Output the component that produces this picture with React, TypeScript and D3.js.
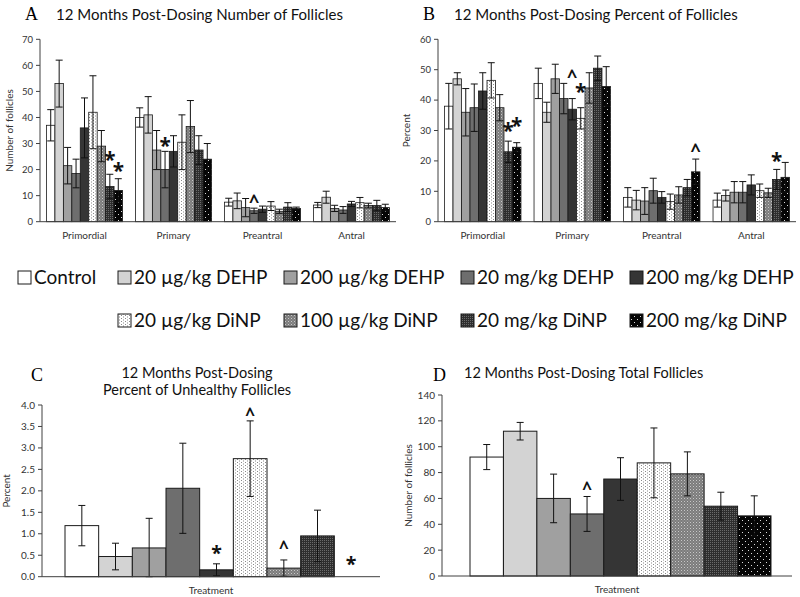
import * as d3 from "d3";

// treatment groups, in bar order
const seriesNames = [
  "Control",
  "20 µg/kg DEHP",
  "200 µg/kg DEHP",
  "20 mg/kg DEHP",
  "200 mg/kg DEHP",
  "20 µg/kg DiNP",
  "100 µg/kg DiNP",
  "20 mg/kg DiNP",
  "200 mg/kg DiNP",
];
const seriesFills = [
  "#ffffff",
  "#d3d3d3",
  "#a0a0a0",
  "#6e6e6e",
  "#353535",
  "url(#pDot)",
  "url(#pGrayDot)",
  "url(#pDarkGrid)",
  "url(#pBlackDot)",
];

const stages = ["Primordial", "Primary", "Preantral", "Antral"];

// A: number of follicles (mean, sem)
const countPrimordial = [37, 53, 21.5, 18.5, 36, 42, 29, 13.5, 12];
const countPrimordialSem = [6, 9, 7, 5.5, 11.5, 14, 6, 4.7, 4.5];
const countPrimary = [40, 41, 27.5, 20, 27, 30.5, 36.5, 27.5, 24];
const countPrimarySem = [3.7, 7, 7.5, 7, 6, 10.5, 10, 5.5, 6];
const countPreantral = [7.5, 8, 5.4, 4.2, 4.8, 6, 4, 5.6, 5.1];
const countPreantralSem = [1.5, 3, 3.5, 1, 1.2, 1.7, 0.8, 1.7, 0.5];
const countAntral = [6.4, 9.4, 5.1, 4.5, 6.8, 7.3, 6.2, 6.2, 5.4];
const countAntralSem = [1, 2.3, 1.2, 1.3, 1, 2, 0.9, 2, 1.3];
const countMarks = [
  { stage: "Primordial", s: 7, sym: "*", at: 25.6 },
  { stage: "Primordial", s: 8, sym: "*", at: 21.2 },
  { stage: "Primary", s: 3, sym: "*", at: 30.8 },
  { stage: "Preantral", s: 3, sym: "^", at: 9.1 },
];

// B: percent of follicles
const pctPrimordial = [38, 47, 36, 37.5, 43, 46.5, 37.5, 23, 24.5];
const pctPrimordialSem = [7.5, 2, 7.8, 7.8, 6, 5.8, 4.3, 3.5, 1.5];
const pctPrimary = [45.5, 36, 47, 40.5, 37, 34, 44, 50.5, 44.5];
const pctPrimarySem = [5, 3.3, 4.8, 5, 3.5, 3.5, 5, 4, 6.5];
const pctPreantral = [8, 7.1, 6.8, 10.2, 8, 6.6, 8.8, 11.2, 16.4];
const pctPreantralSem = [3.2, 3.2, 4.4, 4.1, 1.9, 2.5, 2.7, 2.7, 4.2];
const pctAntral = [7.1, 8.6, 9.7, 9.7, 12.1, 10.2, 9.5, 13.9, 14.6];
const pctAntralSem = [2.3, 1.8, 3.5, 3.5, 3.3, 2.2, 1.5, 3.3, 4.9];
const pctMarks = [
  { stage: "Primordial", s: 7, sym: "*", at: 31.2 },
  { stage: "Primordial", s: 8, sym: "*", at: 32.9 },
  { stage: "Primary", s: 4, sym: "^", at: 48.8 },
  { stage: "Primary", s: 5, sym: "*", at: 44.2 },
  { stage: "Preantral", s: 8, sym: "^", at: 24.7 },
  { stage: "Antral", s: 7, sym: "*", at: 21.4 },
];

// C: percent of unhealthy follicles
const unhealthy = [1.19, 0.47, 0.67, 2.06, 0.16, 2.75, 0.2, 0.95, 0];
const unhealthySem = [0.47, 0.31, 0.69, 1.05, 0.14, 0.88, 0.19, 0.6, 0];
const unhealthyMarks = [
  { s: 4, sym: "*", at: 0.64 },
  { s: 5, sym: "^", at: 3.86 },
  { s: 6, sym: "^", at: 0.74 },
  { s: 8, sym: "*", at: 0.39 },
];

// D: total follicles
const total = [92, 112, 60, 48, 75, 87.5, 79, 54, 46.5];
const totalSem = [9.7, 6.8, 18.8, 13.5, 16.5, 27, 17, 10.8, 15.5];
const totalMarks = [{ s: 3, sym: "^", at: 70.4 }];

const SANS = "Lato, 'Open Sans', sans-serif";
const SERIF = "'Liberation Serif', 'DejaVu Serif', serif";
const AXIS = "#404040";
const TEXT = "#333";

function Patterns() {
  return (
    <defs>
      <pattern id="pDot" width={4} height={3} patternUnits="userSpaceOnUse">
        <rect width={4} height={3} fill="#fff" />
        <rect x={1} y={0} width={1} height={1} fill="#8a8a8a" />
        <rect x={3} y={1.5} width={1} height={1} fill="#8a8a8a" />
      </pattern>
      <pattern id="pGrayDot" width={3} height={3} patternUnits="userSpaceOnUse">
        <rect width={3} height={3} fill="#7c7c7c" />
        <rect x={0} y={0} width={1} height={1} fill="#c8c8c8" />
        <rect x={1.5} y={1.5} width={1} height={1} fill="#a8a8a8" />
      </pattern>
      <pattern id="pDarkGrid" width={2} height={2} patternUnits="userSpaceOnUse">
        <rect width={2} height={2} fill="#2e2e2e" />
        <rect x={0} y={0} width={1} height={1} fill="#6a6a6a" />
      </pattern>
      <pattern id="pBlackDot" width={6} height={6} patternUnits="userSpaceOnUse">
        <rect width={6} height={6} fill="#050505" />
        <rect x={1} y={1} width={1} height={1} fill="#dcdcdc" />
        <rect x={4} y={4} width={1} height={1} fill="#dcdcdc" />
      </pattern>
    </defs>
  );
}

function ErrorBar({ x, y, m, e, cap }) {
  const lo = Math.max(0, m - e);
  const hi = m + e;
  return (
    <g stroke="#111" strokeWidth={1}>
      <line x1={x} x2={x} y1={y(lo)} y2={y(hi)} />
      <line x1={x - cap / 2} x2={x + cap / 2} y1={y(hi)} y2={y(hi)} />
      <line x1={x - cap / 2} x2={x + cap / 2} y1={y(lo)} y2={y(lo)} />
    </g>
  );
}

function Mark({ x, y, sym, size }) {
  const fs = sym === "*" ? size * 1.15 : size;
  return (
    <text x={x} y={y + fs * 0.56} textAnchor="middle" fontFamily="'Open Sans', Lato, sans-serif" fontWeight={700} fontSize={fs} fill="#111">
      {sym}
    </text>
  );
}

function YAxis({ x, y, ticks, fmt, x2, fs }) {
  const [r0, r1] = y.range();
  return (
    <g>
      <line x1={x} x2={x} y1={r0} y2={r1} stroke={AXIS} />
      <line x1={x} x2={x2} y1={r0} y2={r0} stroke={AXIS} />
      {ticks.map((t) => (
        <g key={t}>
          <line x1={x - 4} x2={x} y1={y(t)} y2={y(t)} stroke={AXIS} />
          <text x={x - 7} y={y(t)} dy="0.35em" textAnchor="end" fontFamily={SANS} fontSize={fs} fill={TEXT}>
            {fmt(t)}
          </text>
        </g>
      ))}
    </g>
  );
}

function GroupedPanel({ left, right, top, bottom, max, step, means, sems, marks, letter, title, yLabel, yLabelX }) {
  const x = d3.scaleBand().domain(stages).range([left, right]).paddingInner(0.146).paddingOuter(0.073);
  const xs = d3.scaleBand().domain(d3.range(seriesNames.length)).range([0, x.bandwidth()]);
  const y = d3.scaleLinear().domain([0, max]).range([bottom, top]);
  const ticks = d3.range(0, max + step / 2, step);
  return (
    <g>
      <text x={left - 15} y={20} fontFamily={SERIF} fontSize={18}>{letter}</text>
      <text x={left + 16} y={20} fontFamily={SANS} fontSize={15} fill="#111">{title}</text>
      <text transform={`translate(${yLabelX},${(top + bottom) / 2}) rotate(-90)`} textAnchor="middle" fontFamily={SANS} fontSize={10} fill={TEXT}>
        {yLabel}
      </text>
      {stages.map((st, i) =>
        means[i].map((m, s) => (
          <rect key={st + s} x={x(st) + xs(s)} y={y(m)} width={xs.bandwidth()} height={bottom - y(m)} fill={seriesFills[s]} stroke="#1a1a1a" strokeWidth={0.8} />
        ))
      )}
      {stages.map((st, i) =>
        means[i].map((m, s) => (
          <ErrorBar key={st + "e" + s} x={x(st) + xs(s) + xs.bandwidth() / 2} y={y} m={m} e={sems[i][s]} cap={7} />
        ))
      )}
      <YAxis x={left} y={y} ticks={ticks} fmt={(t) => String(t)} x2={right} fs={9.5} />
      {stages.map((st) => (
        <text key={st} x={x(st) + x.bandwidth() / 2} y={bottom + 17} textAnchor="middle" fontFamily={SANS} fontSize={10} fill={TEXT}>
          {st}
        </text>
      ))}
      {marks.map((mk, i) => (
        <Mark key={i} x={x(mk.stage) + xs(mk.s) + xs.bandwidth() / 2} y={y(mk.at)} sym={mk.sym} size={18} />
      ))}
    </g>
  );
}

function SinglePanel({ axisLeft, axisRight, barLeft, barRight, top, bottom, max, step, fmt, means, sems, marks, yLabel, yLabelX, markSize }) {
  const x = d3.scaleBand().domain(d3.range(seriesNames.length)).range([barLeft, barRight]);
  const y = d3.scaleLinear().domain([0, max]).range([bottom, top]);
  const ticks = d3.range(0, max + step / 2, step);
  return (
    <g>
      <text transform={`translate(${yLabelX},${(top + bottom) / 2}) rotate(-90)`} textAnchor="middle" fontFamily={SANS} fontSize={10} fill={TEXT}>
        {yLabel}
      </text>
      {means.map((m, s) => (
        <rect key={s} x={x(s)} y={y(m)} width={x.bandwidth()} height={bottom - y(m)} fill={seriesFills[s]} stroke="#1a1a1a" strokeWidth={1} />
      ))}
      {means.map((m, s) =>
        m > 0 ? <ErrorBar key={"e" + s} x={x(s) + x.bandwidth() / 2} y={y} m={m} e={sems[s]} cap={7} /> : null
      )}
      <YAxis x={axisLeft} y={y} ticks={ticks} fmt={fmt} x2={axisRight} fs={10} />
      <text x={(axisLeft + axisRight) / 2} y={bottom + 17} textAnchor="middle" fontFamily={SANS} fontSize={10} fill={TEXT}>
        Treatment
      </text>
      {marks.map((mk, i) => (
        <Mark key={i} x={x(mk.s) + x.bandwidth() / 2} y={y(mk.at)} sym={mk.sym} size={markSize} />
      ))}
    </g>
  );
}

// legend: column x positions, then [series index, column, row]
const legendCols = [18, 118, 284, 461, 630];
const legendSlots = [
  [0, 0, 0], [1, 1, 0], [2, 2, 0], [3, 3, 0], [4, 4, 0],
  [5, 1, 1], [6, 2, 1], [7, 3, 1], [8, 4, 1],
];

function Legend() {
  const rowY = [277, 320];
  return (
    <g>
      {legendSlots.map(([s, c, row]) => (
        <g key={s}>
          <rect x={legendCols[c]} y={rowY[row] - 6} width={13} height={13} fill={seriesFills[s]} stroke="#1a1a1a" strokeWidth={1} />
          <text x={legendCols[c] + 16} y={rowY[row] + 7} fontFamily={SANS} fontSize={19} fill="#111">
            {seriesNames[s]}
          </text>
        </g>
      ))}
    </g>
  );
}

export default function App() {
  return (
    <svg width={800} height={597} style={{ position: "absolute", left: 0, top: 0, background: "#fff" }}>
      <Patterns />
      <GroupedPanel
        left={40} right={396} top={39.3} bottom={221.7} max={70} step={10}
        means={[countPrimordial, countPrimary, countPreantral, countAntral]}
        sems={[countPrimordialSem, countPrimarySem, countPreantralSem, countAntralSem]}
        marks={countMarks} letter="A" title="12 Months Post-Dosing Number of Follicles"
        yLabel="Number  of follicles" yLabelX={13}
      />
      <GroupedPanel
        left={438} right={796} top={39.3} bottom={221.7} max={60} step={10}
        means={[pctPrimordial, pctPrimary, pctPreantral, pctAntral]}
        sems={[pctPrimordialSem, pctPrimarySem, pctPreantralSem, pctAntralSem]}
        marks={pctMarks} letter="B" title="12 Months Post-Dosing Percent of Follicles"
        yLabel="Percent" yLabelX={410}
      />
      <Legend />
      <text x={31} y={381} fontFamily={SERIF} fontSize={18}>C</text>
      <text x={197} y={378} textAnchor="middle" fontFamily={SANS} fontSize={14.5} fill="#111">12 Months Post-Dosing</text>
      <text x={197} y={395} textAnchor="middle" fontFamily={SANS} fontSize={14.5} fill="#111">Percent of Unhealthy Follicles</text>
      <SinglePanel
        axisLeft={42} axisRight={380} barLeft={65} barRight={368} top={405} bottom={576.7}
        max={4} step={0.5} fmt={(t) => t.toFixed(1)}
        means={unhealthy} sems={unhealthySem} marks={unhealthyMarks}
        yLabel="Percent" yLabelX={10} markSize={17}
      />
      <text x={433} y={381} fontFamily={SERIF} fontSize={18}>D</text>
      <text x={464} y={378} fontFamily={SANS} fontSize={14.5} fill="#111">12 Months Post-Dosing Total Follicles</text>
      <SinglePanel
        axisLeft={442} axisRight={792} barLeft={470} barRight={771} top={395} bottom={576}
        max={140} step={20} fmt={(t) => String(t)}
        means={total} sems={totalSem} marks={totalMarks}
        yLabel="Number  of follicles" yLabelX={412} markSize={17}
      />
    </svg>
  );
}
